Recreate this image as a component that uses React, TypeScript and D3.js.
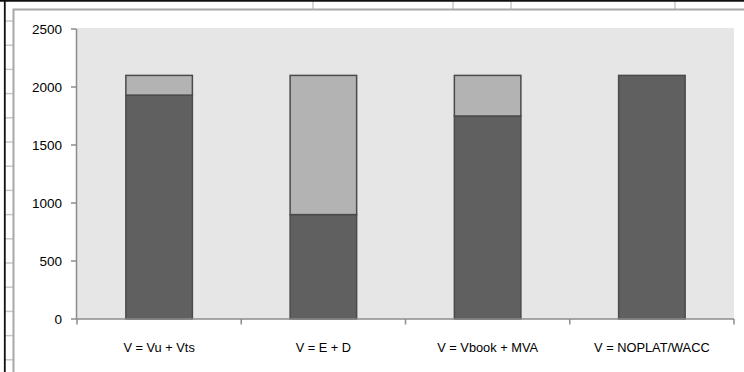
import React from "react";
import * as d3 from "d3";

const categories = ["V = Vu + Vts", "V = E + D", "V = Vbook + MVA", "V = NOPLAT/WACC"];
const baseValues = [1930, 900, 1750, 2100];
const topValues = [170, 1200, 350, 0];
const yTicks = [0, 500, 1000, 1500, 2000, 2500];

const W = 744;
const H = 372;
const plot = { left: 77, right: 734, top: 28, bottom: 319 };
const sheetCols = [313, 453, 511, 675];

export default function App() {
  const table = categories.map((c, i) => ({ cat: c, base: baseValues[i], top: topValues[i] }));
  const stack = d3.stack<any>().keys(["base", "top"])(table);
  const x = d3
    .scaleBand<string>()
    .domain(categories)
    .range([plot.left, plot.right])
    .paddingInner(0.595)
    .paddingOuter(0.2975);
  const y = d3.scaleLinear().domain([0, 2500]).range([plot.bottom, 29]);
  const step = (plot.right - plot.left) / categories.length;
  const catTicks = d3.range(categories.length + 1).map((i) => plot.left + i * step);
  const fills = ["#606060", "#b3b3b3"];
  const rows = d3.range(15).map((k) => 21 + 24.2 * k);
  const font = "'Liberation Sans', Arial, sans-serif";

  return (
    <svg
      width={W}
      height={H}
      style={{ position: "fixed", left: 0, top: 0, background: "#fff" }}
      fontFamily={font}
    >
      <rect x={0} y={0} width={W} height={H} fill="#fff" />
      {/* spreadsheet background */}
      {sheetCols.map((cx) => (
        <line key={cx} x1={cx} x2={cx} y1={1} y2={9} stroke="#c8c8c8" strokeWidth={1.5} />
      ))}
      {rows.map((ry) => (
        <line key={ry} x1={5} x2={13} y1={ry} y2={ry} stroke="#c8c8c8" strokeWidth={1.5} />
      ))}
      <line x1={0} x2={W} y1={0.8} y2={0.8} stroke="#111" strokeWidth={1.8} />
      <line x1={4.8} x2={4.8} y1={0} y2={H} stroke="#111" strokeWidth={1.8} />
      {/* chart area */}
      <rect x={13.5} y={9.5} width={W} height={H} fill="#fff" stroke="#a8a8a8" strokeWidth={2} />
      {/* plot area */}
      <rect
        x={plot.left}
        y={plot.top}
        width={plot.right - plot.left}
        height={plot.bottom - plot.top}
        fill="#e6e6e6"
      />
      {/* bars */}
      {stack.map((layer, li) =>
        layer.map((d: any, i: number) => {
          const h = y(d[0]) - y(d[1]);
          if (h <= 0) return null;
          return (
            <rect
              key={li + "-" + i}
              x={x(categories[i])}
              y={y(d[1])}
              width={x.bandwidth()}
              height={h}
              fill={fills[li]}
              stroke="#4a4a4a"
              strokeWidth={1.5}
            />
          );
        })
      )}
      {/* y axis */}
      <line x1={76.5} x2={76.5} y1={y(2500)} y2={plot.bottom} stroke="#8c8c8c" strokeWidth={1.5} />
      {yTicks.map((t) => (
        <g key={t}>
          <line x1={71} x2={76.5} y1={y(t)} y2={y(t)} stroke="#8c8c8c" strokeWidth={1.5} />
          <text x={62} y={y(t)} dy="0.36em" textAnchor="end" fontSize={13.5} fill="#000">
            {t}
          </text>
        </g>
      ))}
      {/* x axis */}
      <line x1={plot.left - 1} x2={plot.right} y1={plot.bottom} y2={plot.bottom} stroke="#8c8c8c" strokeWidth={1.5} />
      {catTicks.map((cx, i) => (
        <line key={i} x1={cx} x2={cx} y1={plot.bottom} y2={plot.bottom + 5.5} stroke="#8c8c8c" strokeWidth={1.5} />
      ))}
      {categories.map((c) => (
        <text
          key={c}
          x={(x(c) as number) + x.bandwidth() / 2}
          y={347}
          dy="0.36em"
          textAnchor="middle"
          fontSize={12.8}
          fill="#000"
        >
          {c}
        </text>
      ))}
    </svg>
  );
}
